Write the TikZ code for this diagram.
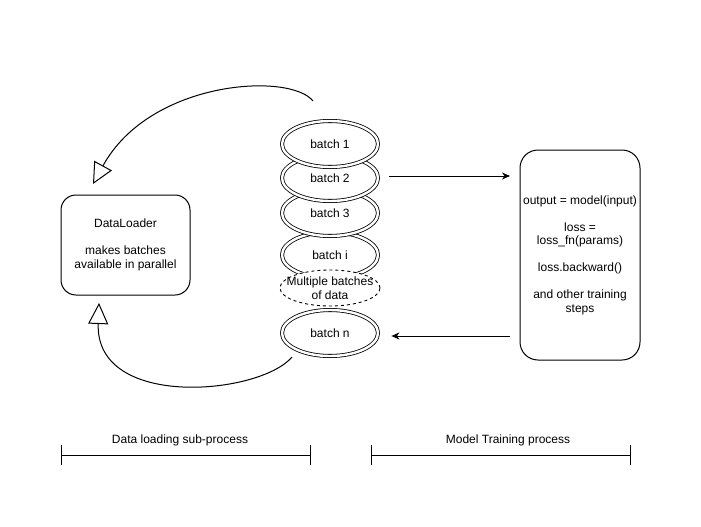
\documentclass[tikz,border=0pt]{standalone}
\usepackage{fontspec}
\setmainfont{Liberation Sans}
\usetikzlibrary{arrows.meta,shapes.geometric,calc}
\begin{document}
\begin{tikzpicture}[x=1pt,y=-1pt,
  every node/.style={font=\fontsize{12}{13.5}\selectfont},
  stage/.style={draw, line width=1pt, align=center, inner sep=0pt},
  batchnode/.style={ellipse, draw, fill=white, line width=0.8pt, double, double distance=2.4pt,
    minimum width=96pt, minimum height=46pt, inner sep=0pt},
  pendnode/.style={ellipse, draw, fill=white, dashed, line width=0.9pt,
    minimum width=100pt, minimum height=36pt, inner sep=0pt},
  flow/.style={line width=1pt, -{Stealth[length=8pt,width=7pt,inset=2.5pt]}},
  loopback/.style={line width=1pt, -{Triangle[open,length=21pt,width=20pt]}},
  span/.style={line width=1pt}
]
\useasboundingbox (0,0) rectangle (701,527);

% worker process and training loop
\node[stage, rounded corners=15pt, minimum width=129pt, minimum height=100pt] (loader) at (125.5,245)
  {DataLoader\\[13.5pt]makes batches\\available in parallel};
\node[stage, rounded corners=18pt, minimum width=120pt, minimum height=210pt] (train) at (580,255)
  {output = model(input)\\[13.5pt]loss =\\loss\_fn(params)\\[13.5pt]loss.backward()\\[13.5pt]and other training\\steps};

% queue of batches, drawn from the bottom up so upper ones overlap lower ones
\node[batchnode] (bn) at (330,333) {batch n};
\node[batchnode] (bi) at (330,255) {batch i};
\node[pendnode] (more) at (330,288) {};
\node[align=center, inner sep=0pt] (moretext) at (more.center) {Multiple batches\\of data};
\node[batchnode] (b3) at (330,213) {batch 3};
\node[batchnode] (b2) at (330,178) {batch 2};
\node[batchnode] (b1) at (330,144) {batch 1};

% batches handed to the training loop and returned
\draw[flow] ($(b2.east)+(11,-2)$) -- ($(b2.east -| train.west)+(-9.5,-2)$);
\draw[flow] ($(bn.east -| train.west)+(-9.5,3)$) -- ($(bn.east)+(13,3)$);

% recycling loops back to the loader
\coordinate (topstart) at (313,101);
\coordinate (toptip) at (93,184);
\draw[loopback] (topstart) .. controls (290,72) and (150,80) .. (toptip);
\coordinate (botstart) at (292,357);
\coordinate (bottip) at (99,303);
\draw[loopback] (botstart) .. controls (260,395) and (95,410) .. (bottip);

% process spans
\draw[span] (61,445) -- (61,465) (61,455) -- (310,455) (310,445) -- (310,465);
\draw[span] (371,445) -- (371,465) (371,455) -- (630,455) (630,445) -- (630,465);
\node (loadlbl) at (180,440) {Data loading sub-process};
\node (trainlbl) at (508,440) {Model Training process};
\end{tikzpicture}
\end{document}
